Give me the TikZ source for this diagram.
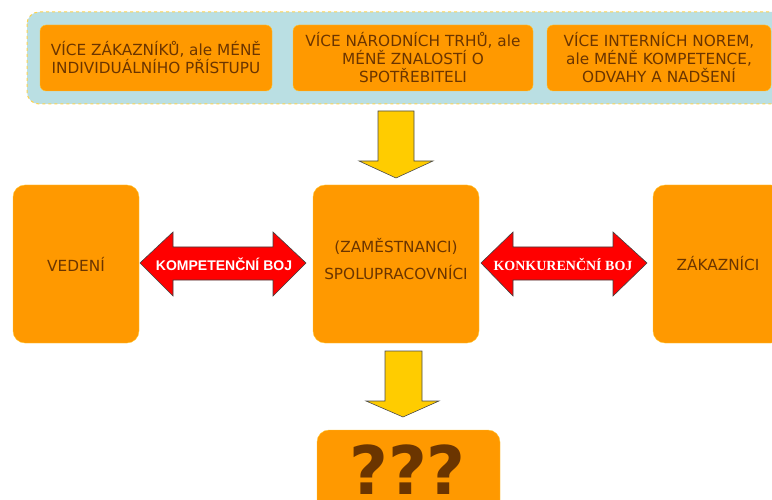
\documentclass[tikz,border=0pt]{standalone}
\usepackage{fontspec}
\setmainfont{DejaVu Sans}
\newfontfamily\fightfont{Liberation Sans}
\newfontfamily\marketfont{Liberation Serif}
\usetikzlibrary{positioning}
\definecolor{panelblue}{HTML}{BADFE3}
\definecolor{paneledge}{HTML}{FFD34D}
\definecolor{boxorange}{HTML}{FF9900}
\definecolor{boxedge}{HTML}{FFC630}
\definecolor{textbrown}{HTML}{6B3500}
\definecolor{arrowyellow}{HTML}{FFCC00}
\definecolor{arrowred}{HTML}{FF0000}
\tikzset{
  trendbox/.style={draw=boxedge, fill=boxorange, rounded corners=6, text=textbrown,
    minimum height=66, align=center, font=\fontsize{15.3}{18}\selectfont},
  actorbox/.style={draw=boxedge, fill=boxorange, rounded corners=12, text=textbrown,
    minimum height=158, align=center, font=\fontsize{15.3}{27}\selectfont},
  flowarrow/.style={draw=black!70, fill=arrowyellow, line width=0.6},
  fightarrow/.style={draw=black!75, fill=arrowred, line width=0.6},
  fightlabel/.style={text=white, inner sep=0, font=\bfseries\fontsize{14}{16}\selectfont}
}
\begin{document}
\begin{tikzpicture}[x=1pt, y=-1pt]
\useasboundingbox (0,0) rectangle (772,500);
\clip (0,0) rectangle (772,500);
% trends on top
\draw[fill=panelblue, draw=paneledge, dashed, line width=1, rounded corners=12] (27,12) rectangle (800,104);
\node[trendbox, minimum width=232] (customers) at (156,58) {VÍCE ZÁKAZNÍKŮ, ale MÉNĚ\\INDIVIDUÁLNÍHO PŘÍSTUPU};
\node[trendbox, minimum width=240] (markets) at (413,58) {VÍCE NÁRODNÍCH TRHŮ, ale\\MÉNĚ ZNALOSTÍ O\\SPOTŘEBITELI};
\node[trendbox, minimum width=224] (norms) at (659,58) {VÍCE INTERNÍCH NOREM,\\ale MÉNĚ KOMPETENCE,\\ODVAHY A NADŠENÍ};

% actors
\node[actorbox, minimum width=126] (management) at (76,264) {VEDENÍ};
\draw[draw=boxedge, fill=boxorange, rounded corners=12] (313,185) rectangle (479,343);
\node[text=textbrown, align=center, font=\fontsize{15.3}{27}\selectfont] (staff) at (396,259) {(ZAMĚSTNANCI)\\SPOLUPRACOVNÍCI};
\node[actorbox, minimum width=130] (customersbox) at (718,264) {ZÁKAZNÍCI};
\draw[draw=boxedge, fill=boxorange, rounded corners=12] (317,430) rectangle (500,520);
\node[text=textbrown, inner sep=0, anchor=base, font=\bfseries\fontsize{67}{67}\selectfont] (question) at (407.5,494) {???};

% flow down
\draw[flowarrow] (378,111) -- (414,111) -- (414,161) -- (433,161) -- (396,178) -- (359,161) -- (378,161) -- cycle;
\draw[flowarrow] (385,351) -- (422,351) -- (422,401) -- (439,401) -- (403,417) -- (366,401) -- (385,401) -- cycle;

% fights
\draw[fightarrow] (140,263) -- (173,232) -- (173,247) -- (273,247) -- (273,232) -- (306,263)
  -- (273,296) -- (273,280) -- (173,280) -- (173,296) -- cycle;
\node[fightlabel] (competence) at (224,264) {\fightfont KOMPETENČNÍ BOJ};
\draw[fightarrow] (481,263) -- (513,232) -- (513,247) -- (613,247) -- (613,232) -- (647,263)
  -- (613,296) -- (613,280) -- (513,280) -- (513,296) -- cycle;
\node[fightlabel] (competition) at (563,264) {\marketfont KONKURENČNÍ BOJ};
\end{tikzpicture}
\end{document}
